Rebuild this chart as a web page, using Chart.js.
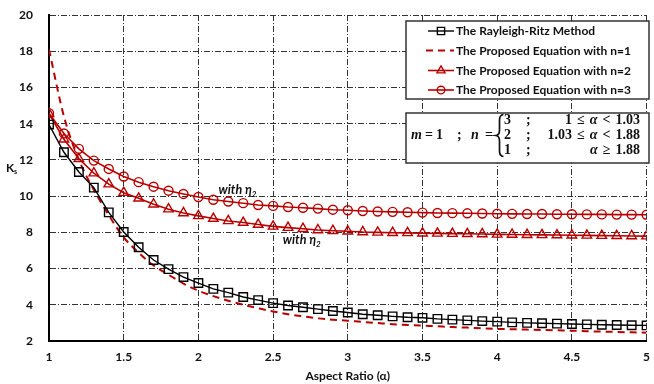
<!DOCTYPE html>
<html>
<head>
<meta charset="utf-8">
<script src="https://cdn.jsdelivr.net/npm/chart.js@4.4.1/dist/chart.umd.min.js"></script>
<style>
  html, body { margin: 0; padding: 0; background: #fff; }
  #wrap { width: 654px; height: 384px; }
</style>
</head>
<body>
<div id="wrap"><canvas id="ks-chart" width="654" height="384"></canvas></div>
<script>
// aspect ratio (alpha) sample points
const alpha = [1.0, 1.1, 1.2, 1.3, 1.4, 1.5, 1.6, 1.7, 1.8, 1.9,
               2.0, 2.1, 2.2, 2.3, 2.4, 2.5, 2.6, 2.7, 2.8, 2.9,
               3.0, 3.1, 3.2, 3.3, 3.4, 3.5, 3.6, 3.7, 3.8, 3.9,
               4.0, 4.1, 4.2, 4.3, 4.4, 4.5, 4.6, 4.7, 4.8, 4.9, 5.0];

// Ks from the Rayleigh-Ritz solution
const ritz = [13.95, 12.42, 11.33, 10.47, 9.10, 8.02, 7.18, 6.47, 5.97, 5.53,
              5.20, 4.88, 4.67, 4.43, 4.26, 4.09, 3.96, 3.86, 3.76, 3.66,
              3.57, 3.48, 3.42, 3.36, 3.31, 3.28, 3.22, 3.18, 3.14, 3.10,
              3.07, 3.03, 3.00, 2.98, 2.96, 2.94, 2.92, 2.90, 2.88, 2.87, 2.86];

// Ks from the proposed equation, n = 1, 2, 3
const eqN1 = [18.10, 14.40, 12.00, 10.35, 8.95, 7.72, 6.88, 6.17, 5.66, 5.17,
              4.78, 4.48, 4.22, 4.00, 3.81, 3.63, 3.48, 3.36, 3.25, 3.18,
              3.12, 3.05, 2.99, 2.93, 2.89, 2.85, 2.81, 2.77, 2.74, 2.70,
              2.67, 2.65, 2.63, 2.61, 2.59, 2.57, 2.54, 2.52, 2.50, 2.48, 2.46];
const eqN2 = [14.55, 13.14, 12.06, 11.27, 10.66, 10.19, 9.88, 9.55, 9.28, 9.07,
              8.91, 8.76, 8.63, 8.54, 8.43, 8.33, 8.26, 8.20, 8.13, 8.09,
              8.06, 8.02, 8.00, 7.98, 7.97, 7.95, 7.94, 7.93, 7.92, 7.91,
              7.89, 7.88, 7.87, 7.86, 7.85, 7.84, 7.83, 7.82, 7.81, 7.80, 7.79];
const eqN3 = [14.58, 13.46, 12.61, 11.96, 11.50, 11.08, 10.77, 10.52, 10.30, 10.12,
              9.95, 9.80, 9.70, 9.61, 9.51, 9.46, 9.40, 9.36, 9.31, 9.25,
              9.22, 9.18, 9.15, 9.13, 9.11, 9.09, 9.07, 9.06, 9.05, 9.04,
              9.03, 9.02, 9.01, 9.01, 9.00, 9.00, 8.99, 8.99, 8.98, 8.98, 8.97];

const xTicks = [1, 1.5, 2, 2.5, 3, 3.5, 4, 4.5, 5];
const yTicks = [2, 4, 6, 8, 10, 12, 14, 16, 18, 20];

const seriesNames = [
  'The Rayleigh-Ritz Method',
  'The Proposed Equation with n=1',
  'The Proposed Equation with n=2',
  'The Proposed Equation with n=3'
];

const red = '#B80000';
const hollow = 'rgba(0,0,0,0)';
const tickFont = { family: 'Lato', weight: 'bold', size: 12 };

const toPoints = values => alpha.map((a, i) => ({ x: a, y: values[i] }));

// legend, equation box, curve notes and y title
const extras = {
  id: 'extras',
  afterDraw(chart) {
    const ctx = chart.ctx;
    const xs = chart.scales.x, ys = chart.scales.y;
    ctx.save();

    // y axis title: K with subscript s
    ctx.fillStyle = '#111';
    ctx.textBaseline = 'alphabetic';
    ctx.font = 'bold 12px Lato';
    ctx.fillText('K', 6, 172);
    ctx.font = 'bold 7px Lato';
    ctx.fillText('s', 14, 174);

    // notes on the n=2 and n=3 curves
    const note = (a, k) => {
      const px = xs.getPixelForValue(a), py = ys.getPixelForValue(k);
      ctx.font = 'italic bold 12.5px Lato';
      ctx.fillStyle = '#111';
      ctx.fillText('with η', px, py);
      const w = ctx.measureText('with η').width;
      ctx.font = 'italic bold 8px Lato';
      ctx.fillText('2', px + w, py + 3);
    };
    note(2.135, 10.1);
    note(2.565, 7.35);

    // legend box
    ctx.fillStyle = '#fff';
    ctx.fillRect(406, 21, 243, 78);
    ctx.strokeStyle = '#333';
    ctx.lineWidth = 1.5;
    ctx.strokeRect(406, 21, 243, 78);
    const rows = [31, 50.5, 70.5, 90];
    chart.data.datasets.forEach((ds, i) => {
      const y = rows[i];
      ctx.save();
      ctx.strokeStyle = ds.borderColor;
      ctx.lineWidth = ds.borderWidth;
      ctx.setLineDash(ds.borderDash || []);
      ctx.beginPath();
      ctx.moveTo(ds.borderDash ? 426 : 428, y);
      ctx.lineTo(454, y);
      ctx.stroke();
      ctx.setLineDash([]);
      if (ds.pointRadius > 0) {
        ctx.fillStyle = hollow;
        ctx.strokeStyle = ds.pointBorderColor;
        ctx.lineWidth = ds.pointBorderWidth;
        Chart.helpers.drawPoint(ctx, {
          pointStyle: ds.pointStyle, radius: ds.pointRadius * 0.85,
          borderWidth: ds.pointBorderWidth, rotation: 0
        }, 441, y);
      }
      ctx.restore();
      ctx.fillStyle = '#111';
      ctx.font = 'bold 12px Lato';
      ctx.textBaseline = 'middle';
      ctx.fillText(ds.label, 456, y + 0.5);
    });

    // equation box
    ctx.textBaseline = 'alphabetic';
    ctx.fillStyle = '#fff';
    ctx.fillRect(406, 113, 243, 50);
    ctx.strokeStyle = '#333';
    ctx.lineWidth = 1.5;
    ctx.strokeRect(406, 113, 243, 50);

    const it = 'italic bold 14px "Liberation Serif"';
    const rm = 'bold 14px "Liberation Serif"';
    ctx.fillStyle = '#111';
    const put = (t, x, y, f) => { ctx.font = f; ctx.fillText(t, x, y); };
    put('m', 411, 138.5, it);
    put('=', 425, 138.5, rm);
    put('1', 436, 138.5, rm);
    put(';', 457, 138.5, rm);
    put('n', 471, 138.5, it);
    put('=', 485, 138.5, rm);

    // curly brace
    ctx.strokeStyle = '#111';
    ctx.lineWidth = 1.7;
    ctx.beginPath();
    ctx.moveTo(503.5, 114.5);
    ctx.quadraticCurveTo(499.5, 115, 499.5, 120);
    ctx.lineTo(499.5, 130);
    ctx.quadraticCurveTo(499.5, 135, 496, 135.5);
    ctx.quadraticCurveTo(499.5, 136, 499.5, 141);
    ctx.lineTo(499.5, 151);
    ctx.quadraticCurveTo(499.5, 156, 503.5, 156.5);
    ctx.stroke();

    // piecewise rows, range right-aligned
    const cases = [
      ['3', [['1', rm], ['≤', rm], ['α', it], ['<', rm], ['1.03', rm]]],
      ['2', [['1.03', rm], ['≤', rm], ['α', it], ['<', rm], ['1.88', rm]]],
      ['1', [['α', it], ['≥', rm], ['1.88', rm]]]
    ];
    const base = [124, 139, 154];
    const gap = 5;
    cases.forEach(([n, toks], r) => {
      const y = base[r];
      put(n, 504, y, rm);
      put(';', 526, y, rm);
      let total = 0;
      toks.forEach(([t, f]) => { ctx.font = f; total += ctx.measureText(t).width; });
      total += gap * (toks.length - 1);
      let x = 640 - total;
      toks.forEach(([t, f]) => {
        put(t, x, y, f);
        x += ctx.measureText(t).width + gap;
      });
    });

    ctx.restore();
  }
};

new Chart(document.getElementById('ks-chart'), {
  type: 'line',
  data: {
    datasets: [
      {
        label: seriesNames[0],
        data: toPoints(ritz),
        borderColor: '#000',
        borderWidth: 1.4,
        pointStyle: 'rect',
        pointRadius: 6,
        pointBorderColor: '#000',
        pointBackgroundColor: hollow,
        pointBorderWidth: 1.4
      },
      {
        label: seriesNames[1],
        data: toPoints(eqN1),
        borderColor: red,
        borderWidth: 2,
        borderDash: [7, 5],
        pointRadius: 0,
        cubicInterpolationMode: 'monotone'
      },
      {
        label: seriesNames[2],
        data: toPoints(eqN2),
        borderColor: red,
        borderWidth: 1.6,
        pointStyle: 'triangle',
        pointRadius: 5.5,
        pointBorderColor: red,
        pointBackgroundColor: hollow,
        pointBorderWidth: 1.4
      },
      {
        label: seriesNames[3],
        data: toPoints(eqN3),
        borderColor: red,
        borderWidth: 1.6,
        pointStyle: 'circle',
        pointRadius: 4.5,
        pointBorderColor: red,
        pointBackgroundColor: hollow,
        pointBorderWidth: 1.4
      }
    ]
  },
  options: {
    responsive: false,
    animation: false,
    layout: { padding: { top: 15, right: 2, left: 0, bottom: 0 } },
    plugins: { legend: { display: false }, tooltip: { enabled: false } },
    scales: {
      x: {
        type: 'linear',
        min: 1,
        max: 5,
        afterBuildTicks: s => { s.ticks = xTicks.map(v => ({ value: v })); },
        afterFit: s => { s.height = 43; s.paddingLeft = 0; s.paddingRight = 0; },
        grid: { color: '#333', lineWidth: 1, drawTicks: false },
        border: { display: true, color: '#000', width: 2, dash: [6, 2, 1, 2] },
        ticks: {
          padding: 9, color: '#111', font: tickFont,
          maxRotation: 0, autoSkip: false, callback: v => String(v)
        },
        title: {
          display: true, text: 'Aspect Ratio (α)', color: '#111',
          font: tickFont, padding: { top: 0, bottom: 1 }
        }
      },
      y: {
        min: 2,
        max: 20,
        afterBuildTicks: s => { s.ticks = yTicks.map(v => ({ value: v })); },
        afterFit: s => { s.width = 49; s.paddingTop = 0; s.paddingBottom = 0; },
        grid: { color: '#333', lineWidth: 1, drawTicks: false },
        border: { display: true, color: '#000', width: 2, dash: [6, 2, 1, 2] },
        ticks: { padding: 16, color: '#111', font: tickFont, callback: v => String(v) }
      }
    }
  },
  plugins: [extras]
});
</script>
</body>
</html>
